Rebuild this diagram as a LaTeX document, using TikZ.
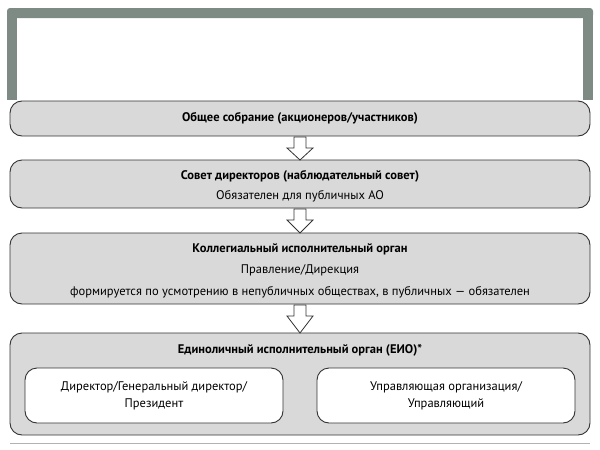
\documentclass[tikz,border=0pt]{standalone}
\usepackage{fontspec}
\setmainfont{PT Sans}
\usetikzlibrary{calc}
\definecolor{frame}{HTML}{7E8B84}
\definecolor{boxfill}{HTML}{D9D9D9}
\tikzset{
 bigbox/.style={draw=black!80, line width=0.9pt, fill=boxfill, rounded corners=12pt},
 innerbox/.style={draw=black!80, line width=0.9pt, fill=white, rounded corners=12pt},
 hollowarrow/.style={draw=black!80, line width=0.8pt, fill=white},
 txt/.style={font=\fontsize{12.5}{14}\selectfont}
}
\newcommand{\hollowdown}[2]{%
 \draw[hollowarrow] ($(#1)+(-6,0)$) -- ($(#1)+(6,0)$) -- ($(#1)+(6,11)$) -- ($(#1)+(13,11)$) -- (#2) -- ($(#1)+(-13,11)$) -- ($(#1)+(-6,11)$) -- cycle;}
\begin{document}
\begin{tikzpicture}[x=1pt,y=-1pt]
\useasboundingbox (0,0) rectangle (600,450);
% frame
\fill[frame,rounded corners=3pt] (7,8) rectangle (593,18);
\fill[frame] (7,14) rectangle (17,100);
\fill[frame] (583,14) rectangle (593,100);
\draw[black!30,line width=0.8pt] (10,443) -- (590,443);
% boxes
\path[bigbox] (10,101) rectangle (590,136);
\node[txt] (t1) at (300,118.5) {\textbf{Общее собрание (акционеров/участников)}};
\path[bigbox] (10,160) rectangle (590,208);
\node[txt] (t2a) at (300,176) {\textbf{Совет директоров (наблюдательный совет)}};
\node[txt] (t2b) at (300,196) {Обязателен для публичных АО};
\path[bigbox] (10,233) rectangle (590,304);
\node[txt] (t3a) at (300,249) {\textbf{Коллегиальный исполнительный орган}};
\node[txt] (t3b) at (300,270) {Правление/Дирекция};
\node[txt] (t3c) at (300,292) {формируется по усмотрению в непубличных обществах, в публичных — обязателен};
\path[bigbox] (10,333) rectangle (590,435);
\node[txt] (t4) at (300,350) {\textbf{Единоличный исполнительный орган (ЕИО)*}};
\path[innerbox] (25,368) rectangle (283,423);
\node[txt,align=center] (l) at (154,395.5) {Директор/Генеральный директор/\\[3pt]Президент};
\path[innerbox] (317,368) rectangle (575,423);
\node[txt,align=center] (r) at (446,395.5) {Управляющая организация/\\[3pt]Управляющий};
% arrows
\coordinate (a1s) at (300,137); \coordinate (a1e) at (300,160);
\coordinate (a2s) at (300,209); \coordinate (a2e) at (300,233);
\coordinate (a3s) at (300,305); \coordinate (a3e) at (300,333);
\hollowdown{a1s}{a1e}
\hollowdown{a2s}{a2e}
\hollowdown{a3s}{a3e}
\end{tikzpicture}
\end{document}
